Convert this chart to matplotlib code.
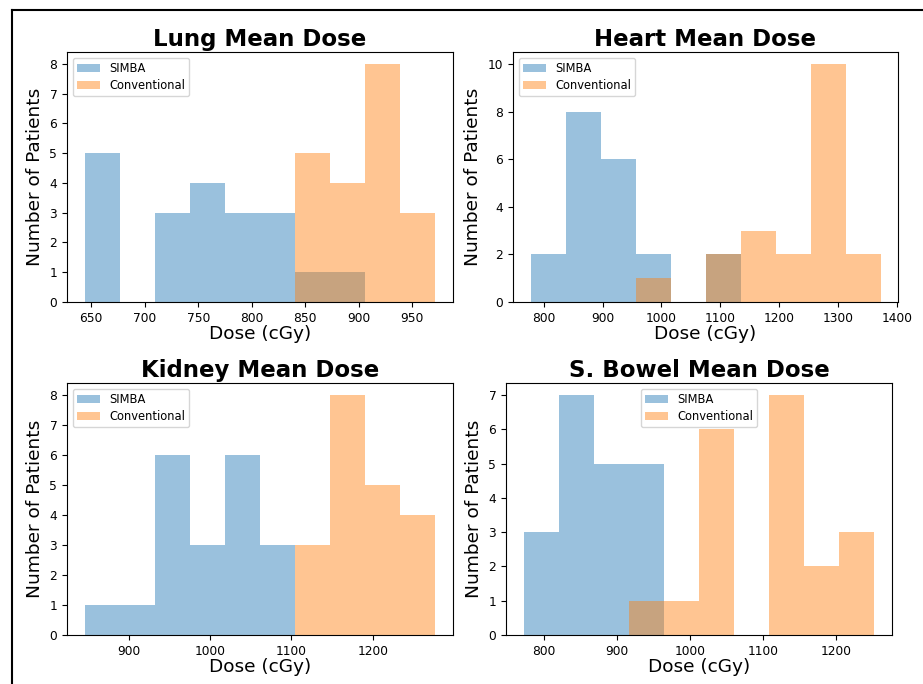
import numpy as np
import matplotlib
matplotlib.use("Agg")
import matplotlib.pyplot as plt
from matplotlib.lines import Line2D

# every panel: 10 equal bins between lo and hi (counts)
LABELS = ["SIMBA", "Conventional"]

lung_range = [643.7, 971.6]
lung_simba = [5, 0, 3, 4, 3, 3, 1, 1, 0, 0]
lung_conv = [0, 0, 0, 0, 0, 0, 5, 4, 8, 3]
lung_xticks = [650, 700, 750, 800, 850, 900, 950]
lung_yticks = [0, 1, 2, 3, 4, 5, 6, 7, 8]

heart_range = [777.4, 1372.5]
heart_simba = [2, 8, 6, 2, 0, 2, 0, 0, 0, 0]
heart_conv = [0, 0, 0, 1, 0, 2, 3, 2, 10, 2]
heart_xticks = [800, 900, 1000, 1100, 1200, 1300, 1400]
heart_yticks = [0, 2, 4, 6, 8, 10]

kidney_range = [845.3, 1277.2]
kidney_simba = [1, 1, 6, 3, 6, 3, 0, 0, 0, 0]
kidney_conv = [0, 0, 0, 0, 0, 0, 3, 8, 5, 4]
kidney_xticks = [900, 1000, 1100, 1200]
kidney_yticks = [0, 1, 2, 3, 4, 5, 6, 7, 8]

bowel_range = [772.5, 1252.7]
bowel_simba = [3, 7, 5, 5, 0, 0, 0, 0, 0, 0]
bowel_conv = [0, 0, 0, 1, 1, 6, 0, 7, 2, 3]
bowel_xticks = [800, 900, 1000, 1100, 1200]
bowel_yticks = [0, 1, 2, 3, 4, 5, 6, 7]

W, H = 923, 684
fig = plt.figure(figsize=(W / 100, H / 100), dpi=100)


def px_axes(left, right, top, bottom):
    # axes box given in pixels of the final image
    return fig.add_axes([left / W, 1 - bottom / H, (right - left) / W, (bottom - top) / H])


def panel(ax, title, rng, simba, conv, xticks, yticks, legend_loc):
    edges = np.linspace(rng[0], rng[1], len(simba) + 1)
    ax.hist(edges[:-1], bins=edges, weights=simba, alpha=0.45, color="C0", label=LABELS[0])
    ax.hist(edges[:-1], bins=edges, weights=conv, alpha=0.45, color="C1", label=LABELS[1])
    ax.set_xticks(xticks)
    ax.set_yticks(yticks)
    ax.tick_params(labelsize=8.8)
    ax.set_title(title, fontsize=16.5, fontweight="bold", pad=4)
    ax.set_xlabel("Dose (cGy)", fontsize=13.3, labelpad=0)
    ax.set_ylabel("Number of Patients", fontsize=13.3)
    ax.legend(loc=legend_loc, fontsize=8.3, labelspacing=0.35, borderpad=0.35)


ax1 = px_axes(67, 453, 52, 302)
panel(ax1, "Lung Mean Dose", lung_range, lung_simba, lung_conv, lung_xticks, lung_yticks, "upper left")

ax2 = px_axes(513, 898, 52, 302)
panel(ax2, "Heart Mean Dose", heart_range, heart_simba, heart_conv, heart_xticks, heart_yticks, "upper left")

ax3 = px_axes(67, 453, 383, 635)
panel(ax3, "Kidney Mean Dose", kidney_range, kidney_simba, kidney_conv, kidney_xticks, kidney_yticks, "upper left")

ax4 = px_axes(506, 892, 383, 635)
panel(ax4, "S. Bowel Mean Dose", bowel_range, bowel_simba, bowel_conv, bowel_xticks, bowel_yticks, "upper center")

# frame lines around the figure (top and left only)
fig.add_artist(Line2D([12 / W, 1], [1 - 9.5 / H, 1 - 9.5 / H], transform=fig.transFigure, color="black", lw=1.5))
fig.add_artist(Line2D([12 / W, 12 / W], [0, 1 - 9.5 / H], transform=fig.transFigure, color="black", lw=1.5))

fig.savefig("out.png", dpi=100)
